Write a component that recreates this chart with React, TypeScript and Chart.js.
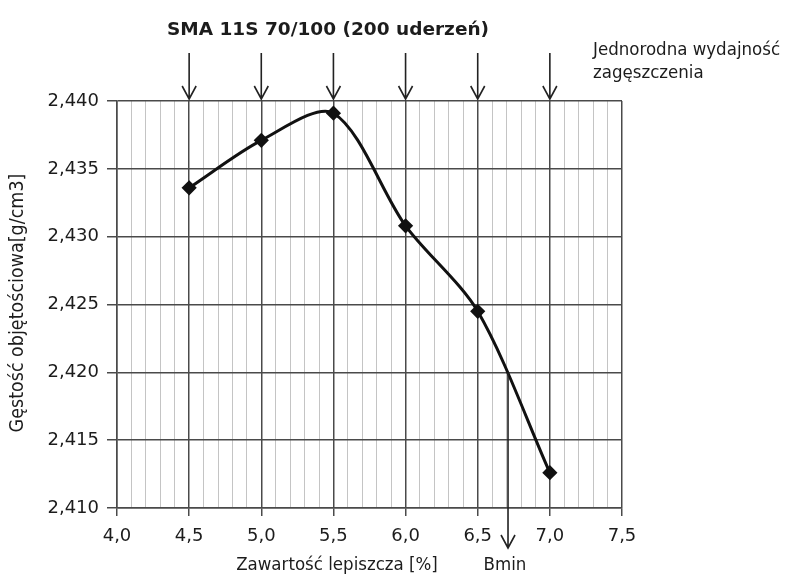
import React, { useEffect, useRef } from "react";
import { Chart, registerables } from "chart.js";

Chart.register(...registerables);

// ---- data ----
const binderContent = [4.5, 5.0, 5.5, 6.0, 6.5, 7.0];
const bulkDensity = [2.4336, 2.4371, 2.4391, 2.4308, 2.4245, 2.4126];
const arrowPositions = [4.5, 5.0, 5.5, 6.0, 6.5, 7.0];
const bminX = 6.71;
const bminDensity = 2.42;
const xMin = 4.0;
const xMax = 7.5;
const yMin = 2.41;
const yMax = 2.44;

const chartTitle = "SMA 11S 70/100 (200 uderzeń)";
const noteLines = ["Jednorodna wydajność", "zagęszczenia"];
const xTitle = "Zawartość lepiszcza [%]";
const yTitle = "Gęstość objętościowa[g/cm3]";
const bminLabel = "Bmin";

const isMajor = (v: number) => Math.abs(v * 2 - Math.round(v * 2)) < 1e-6;
const TEXT = "#1c1c1c";
const MAJOR = "#4a4a4a";
const MINOR = "#c4c4c4";
const narrowFont = "'DejaVu Sans Condensed', 'Liberation Sans Narrow', 'DejaVu Sans', sans-serif";

function arrowDown(ctx: CanvasRenderingContext2D, x: number, y0: number, y1: number) {
  ctx.beginPath();
  ctx.moveTo(x, y0);
  ctx.lineTo(x, y1);
  ctx.moveTo(x - 7, y1 - 13);
  ctx.lineTo(x, y1);
  ctx.lineTo(x + 7, y1 - 13);
  ctx.stroke();
}

const annotations = {
  id: "annotations",
  afterDraw(chart: any) {
    const ctx: CanvasRenderingContext2D = chart.ctx;
    const xs = chart.scales.x;
    const ys = chart.scales.y;
    const top = chart.chartArea.top;
    ctx.save();
    ctx.strokeStyle = "#222";
    ctx.lineWidth = 1.6;
    for (const v of arrowPositions) {
      arrowDown(ctx, xs.getPixelForValue(v), 53, top - 2);
    }
    const bx = xs.getPixelForValue(bminX);
    arrowDown(ctx, bx, ys.getPixelForValue(bminDensity), 548);

    ctx.fillStyle = TEXT;
    ctx.textBaseline = "middle";
    ctx.textAlign = "center";
    ctx.font = "bold 18.5px 'DejaVu Sans', sans-serif";
    ctx.fillText(chartTitle, 328, 30);

    ctx.textAlign = "left";
    ctx.font = `18.5px ${narrowFont}`;
    ctx.fillText(noteLines[0], 593, 50);
    ctx.fillText(noteLines[1], 593, 73);

    ctx.textAlign = "center";
    ctx.fillText(xTitle, 337, 565);
    ctx.fillText(bminLabel, bx - 3, 565);

    ctx.font = `19.5px ${narrowFont}`;
    ctx.translate(18, 303);
    ctx.rotate(-Math.PI / 2);
    ctx.fillText(yTitle, 0, 0);
    ctx.restore();
  },
};

export default function App() {
  const ref = useRef<HTMLCanvasElement | null>(null);
  useEffect(() => {
    if (!ref.current) return;
    const chart = new Chart(ref.current, {
      type: "line",
      data: {
        datasets: [
          {
            data: binderContent.map((x, i) => ({ x, y: bulkDensity[i] })),
            borderColor: "#111",
            backgroundColor: "#111",
            borderWidth: 3,
            tension: 0.3,
            pointStyle: "rectRot",
            pointRadius: 5.5,
            pointBackgroundColor: "#111",
            pointBorderColor: "#111",
          },
        ],
      },
      options: {
        animation: false,
        responsive: false,
        events: [],
        layout: { padding: { top: 101, right: 170, left: 0, bottom: 0 } },
        plugins: { legend: { display: false }, tooltip: { enabled: false } },
        scales: {
          x: {
            type: "linear",
            min: xMin,
            max: xMax,
            afterFit: (s: any) => {
              s.height = 71;
            },
            border: { display: true, color: MAJOR, width: 1.5 },
            grid: {
              color: (c: any) => (isMajor(c.tick.value) ? MAJOR : MINOR),
              lineWidth: (c: any) => (isMajor(c.tick.value) ? 1.5 : 1),
              tickColor: (c: any) => (isMajor(c.tick.value) ? MAJOR : "rgba(0,0,0,0)"),
              tickLength: 8,
            },
            ticks: {
              stepSize: 0.1,
              autoSkip: false,
              maxRotation: 0,
              padding: 10,
              color: TEXT,
              font: { family: "'DejaVu Sans', sans-serif", size: 18 },
              callback: (v: any) => (isMajor(Number(v)) ? Number(v).toFixed(1).replace(".", ",") : ""),
            },
          },
          y: {
            min: yMin,
            max: yMax,
            afterFit: (s: any) => {
              s.width = 117;
            },
            border: { display: true, color: MAJOR, width: 1.5 },
            grid: { color: MAJOR, lineWidth: 1.5, tickLength: 10 },
            ticks: {
              stepSize: 0.005,
              padding: 8,
              color: TEXT,
              font: { family: "'DejaVu Sans', sans-serif", size: 18 },
              callback: (v: any) => Number(v).toFixed(3).replace(".", ","),
            },
          },
        },
      },
      plugins: [annotations],
    });
    return () => chart.destroy();
  }, []);
  return (
    <div style={{ position: "absolute", left: 0, top: 0, width: 792, height: 579, background: "#fff" }}>
      <canvas ref={ref} width={792} height={579} />
    </div>
  );
}
